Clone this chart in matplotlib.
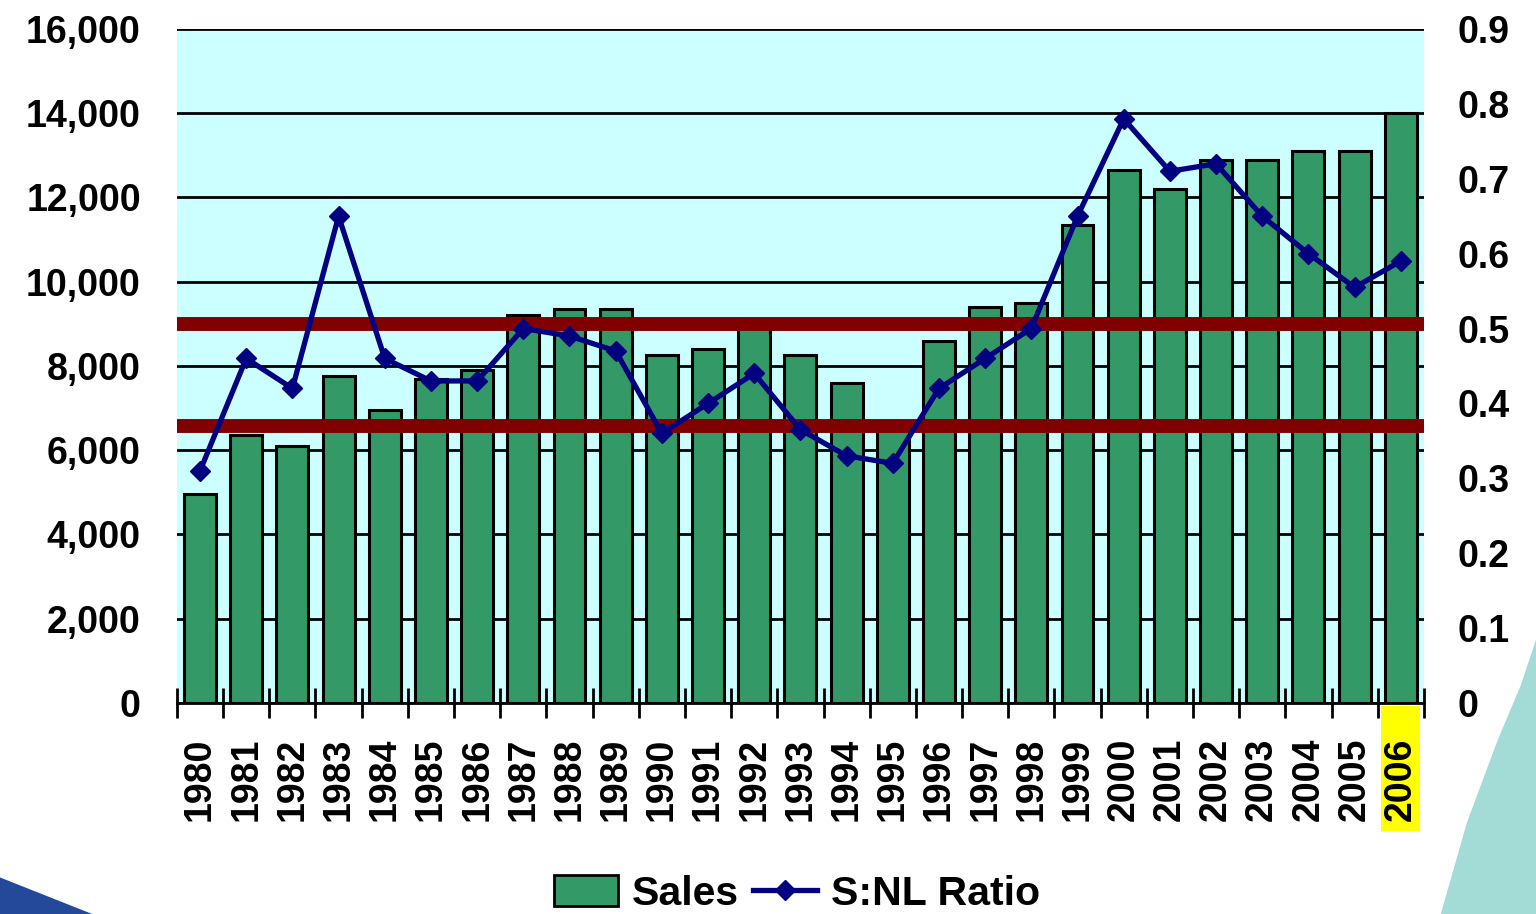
import matplotlib
matplotlib.use('Agg')
from matplotlib import pyplot as plt
from matplotlib.patches import Rectangle, Polygon
from matplotlib.lines import Line2D
import matplotlib.transforms as mtransforms
import numpy as np

plt.rcParams.update({
    'font.family': ['Liberation Sans', 'DejaVu Sans'],
    'font.weight': 'bold',
    'axes.axisbelow': True,
})

years = [str(y) for y in range(1980, 2007)]
sales = [4950, 6350, 6100, 7750, 6950, 7700, 7900, 9200, 9350, 9350,
         8250, 8400, 9000, 8250, 7600, 6600, 8600, 9400, 9500, 11350,
         12650, 12200, 12900, 12900, 13100, 13100, 14000]
ratio = [0.31, 0.46, 0.42, 0.65, 0.46, 0.43, 0.43, 0.50, 0.49, 0.47,
         0.36, 0.40, 0.44, 0.365, 0.33, 0.32, 0.42, 0.46, 0.50, 0.65,
         0.78, 0.71, 0.72, 0.65, 0.60, 0.555, 0.59]
band_levels = [9000, 6580]   # reference lines on the sales axis
highlight = '2006'

fig = plt.figure(figsize=(15.36, 9.14), dpi=100)
fig.patch.set_facecolor('white')

# decorative background swooshes
fig.patches.append(Polygon([[0.938, 0.0], [0.955, 0.10], [0.975, 0.19], [0.99, 0.25], [1.0, 0.30], [1.0, 0.0]],
                           closed=True, transform=fig.transFigure, facecolor='#a3dcd6',
                           edgecolor='none', zorder=0))
fig.patches.append(Polygon([[0.0, 0.04], [0.06, 0.0], [0.0, 0.0]], closed=True,
                           transform=fig.transFigure, facecolor='#24489a',
                           edgecolor='none', zorder=0))

ax = fig.add_axes([0.1152, 0.2309, 0.8118, 0.7374])
ax.set_facecolor('#ccffff')
x = np.arange(len(years))
ax.bar(x, sales, width=0.69, color='#339966', edgecolor='black', linewidth=2.2, zorder=2)
for lv in band_levels:
    ax.axhline(lv, color='#800000', linewidth=10, zorder=4)

ax.set_ylim(0, 16000)
ax.set_xlim(-0.5, len(years) - 0.5)
ax.set_yticks(np.arange(0, 16001, 2000))
ax.set_yticklabels([f'{v:,}' for v in range(0, 16001, 2000)])
ax.yaxis.grid(True, color='black', linewidth=2)
ax.tick_params(axis='y', length=0, labelsize=27, pad=26)
for s in ['left', 'right', 'top']:
    ax.spines[s].set_visible(False)
ax.spines['bottom'].set_linewidth(2)

ax.set_xticks(x)
ax.set_xticklabels(years, rotation=90)
ax.tick_params(axis='x', which='major', length=0, labelsize=27, pad=25)
ax.set_xticks(np.arange(-0.5, len(years), 1), minor=True)
ax.tick_params(axis='x', which='minor', direction='inout', length=21, width=2)

# yellow highlight behind the last year label
trans = mtransforms.blended_transform_factory(ax.transData, ax.transAxes)
hi = years.index(highlight)
ax.add_patch(Rectangle((hi - 0.42, -0.19), 0.84, 0.185, transform=trans,
                       facecolor='#ffff00', edgecolor='none', clip_on=False, zorder=0.2))

ax2 = ax.twinx()
ax2.plot(x, ratio, color='#000080', linewidth=3.8, marker='D', markersize=10, zorder=3)
ax2.set_ylim(0, 0.9)
ax2.set_yticks(np.arange(0, 0.91, 0.1))
ax2.set_yticklabels(['0'] + [f'{v:.1f}' for v in np.arange(0.1, 0.91, 0.1)])
ax2.tick_params(axis='y', length=0, labelsize=27, pad=24)
for s in ['left', 'right', 'top', 'bottom']:
    ax2.spines[s].set_visible(False)

handles = [Rectangle((0, 0), 1, 1, facecolor='#339966', edgecolor='black', linewidth=2),
           Line2D([], [], color='#000080', linewidth=3.8, marker='D', markersize=10)]
fig.legend(handles, ['Sales', 'S:NL Ratio'], loc='center', bbox_to_anchor=(0.519, 0.022),
           ncol=2, frameon=False, fontsize=29.5, handlelength=1.55, handleheight=0.8,
           handletextpad=0.35, columnspacing=0.35)

fig.savefig('out.png', dpi=100)
